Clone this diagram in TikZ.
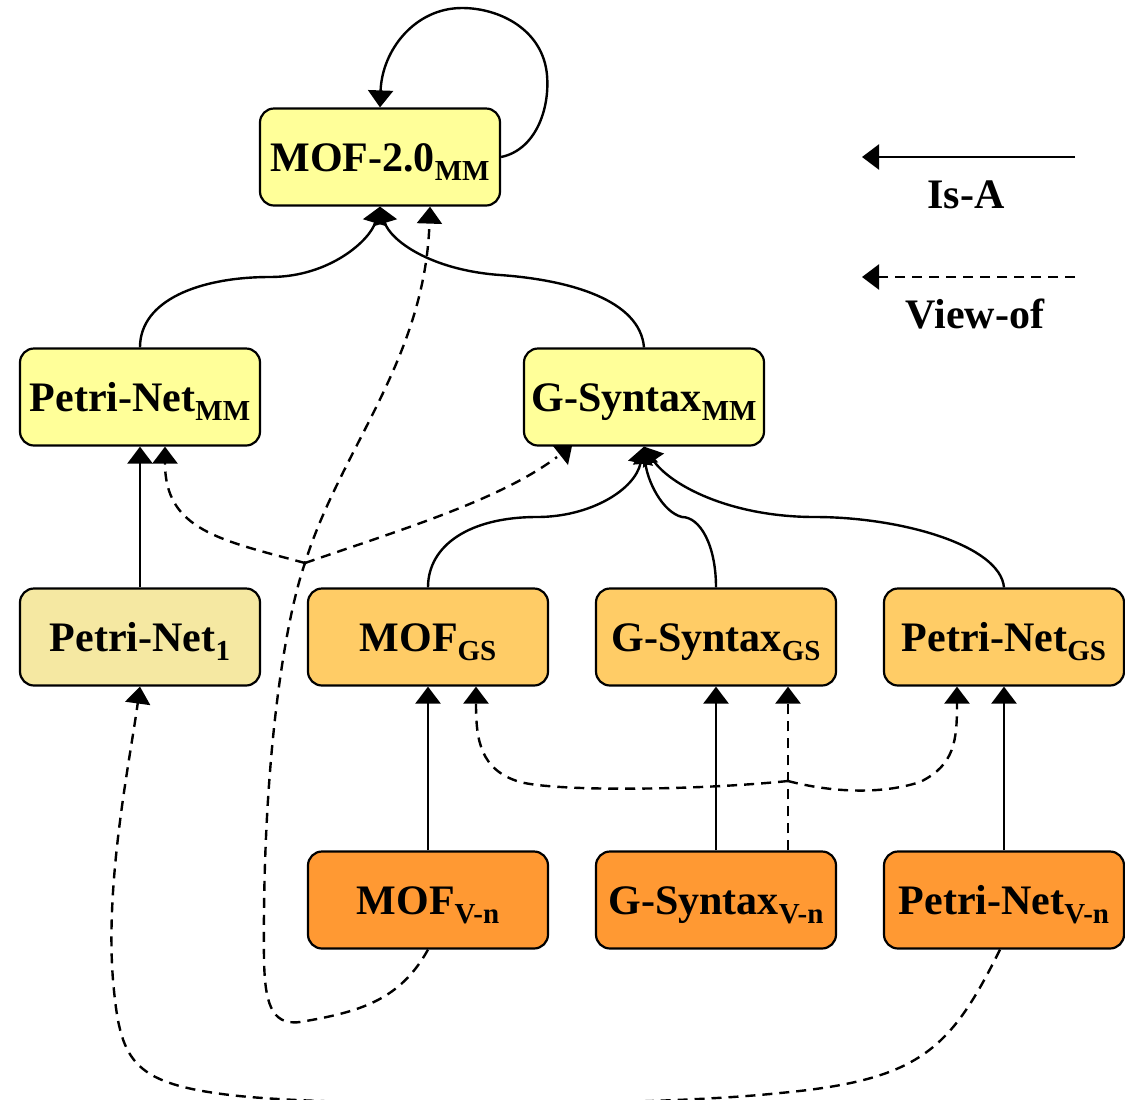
\documentclass[tikz,border=0pt]{standalone}
\usepackage{fontspec}
\setmainfont{Liberation Serif}
\usetikzlibrary{arrows.meta,calc}
\newcommand\lsub[1]{\raisebox{-4.5pt}{\fontsize{14.5}{15}\selectfont #1}}
\definecolor{mmfill}{HTML}{FFFF99}
\definecolor{onefill}{HTML}{F5E8A2}
\definecolor{gsfill}{HTML}{FFCC66}
\definecolor{vnfill}{HTML}{FF9933}
\begin{document}
\begin{tikzpicture}[x=0.5pt,y=-0.5pt,
  box/.style={draw=black,line width=1.1pt,rounded corners=7pt,minimum width=120pt,
    minimum height=48.5pt,inner sep=0pt,font=\fontsize{21}{25}\selectfont\bfseries,
    text height=14pt,text depth=0pt},
  lbl/.style={font=\fontsize{21}{25}\selectfont\bfseries,inner sep=0pt,anchor=base},
  isa/.style={line width=1.2pt,-{Triangle[width=12.5pt,length=8.5pt]}},
  viewof/.style={isa,dash pattern=on 5pt off 3.5pt}]
\useasboundingbox (0,0) rectangle (1125,1099);

% nodes
\node[box,fill=mmfill] (mof) at (380,157) {MOF-2.0\lsub{MM}};
\node[box,fill=mmfill] (pnmm) at (140,397) {Petri-Net\lsub{MM}};
\node[box,fill=mmfill] (gsmm) at (644,397) {G-Syntax\lsub{MM}};
\node[box,fill=onefill] (pn1) at (140,637) {Petri-Net\lsub{1}};
\node[box,fill=gsfill] (mgs) at (428,637) {MOF\lsub{GS}};
\node[box,fill=gsfill] (ggs) at (716,637) {G-Syntax\lsub{GS}};
\node[box,fill=gsfill] (pgs) at (1004,637) {Petri-Net\lsub{GS}};
\node[box,fill=vnfill] (mvn) at (428,900) {MOF\lsub{V-n}};
\node[box,fill=vnfill] (gvn) at (716,900) {G-Syntax\lsub{V-n}};
\node[box,fill=vnfill] (pvn) at (1004,900) {Petri-Net\lsub{V-n}};

% legend
\coordinate (la1) at (1075,157); \coordinate (la2) at (862,157);
\coordinate (lb1) at (1075,277); \coordinate (lb2) at (862,277);
\draw[isa] (la1) -- (la2);
\draw[viewof] (lb1) -- (lb2);
\node[lbl] (lisa) at (966,208) {Is-A};
\node[lbl] (lview) at (975,328) {View-of};

% Is-A connectors
\draw[isa] (mof.east) .. controls (535,150) and (550,110) .. (547,75)
  .. controls (543,30) and (500,8) .. (462,8)
  .. controls (415,8) and (382,50) .. (mof.north);
\draw[isa] (pnmm.north) .. controls (140,300) and (200,277) .. (270,277)
  .. controls (330,277) and (370,240) .. (mof.south);
\draw[isa] (gsmm.north) .. controls (640,300) and (570,280) .. (500,275)
  .. controls (430,270) and (390,240) .. (mof.south);
\draw[isa] (pn1.north) -- (pnmm.south);
\draw[isa] (mgs.north) .. controls (428,545) and (470,517) .. (537,517)
  .. controls (590,517) and (635,490) .. (gsmm.south);
\draw[isa] (ggs.north) .. controls (716,545) and (700,517) .. (682,517)
  .. controls (662,512) and (647,480) .. (gsmm.south);
\draw[isa] (pgs.north) .. controls (1000,545) and (900,517) .. (815,517)
  .. controls (730,517) and (670,485) .. (gsmm.south);
\draw[isa] (mvn.north) -- (mgs.south);
\draw[isa] (gvn.north) -- (ggs.south);
\draw[isa] (pvn.north) -- (pgs.south);

% View-of connectors
\coordinate (j1) at (305,563);
\coordinate (j2) at (788,781);
\coordinate (gtip) at (557,457);
\draw[viewof] (mvn.south) .. controls (400,1000) and (360,1012) .. (300,1022)
  .. controls (270,1026) and (265,1000) .. (264,960)
  .. controls (262,760) and (285,620) .. (j1)
  .. controls (340,450) and (425,360) .. ($(mof.south)+(50,0)$);
\draw[viewof] (j1) .. controls (220,540) and (165,530) .. ($(pnmm.south)+(25,0)$);
\draw[dash pattern=on 5pt off 3.5pt,line width=1.2pt] (j1) .. controls (400,530) and (500,500) .. (gtip);
\fill (553,446) -- (572,446) -- (568,465) -- cycle;
\draw[viewof] ($(gvn.north)+(72,0)$) -- (j2) -- ($(ggs.south)+(72,0)$);
\draw[viewof] (j2) .. controls (700,790) and (560,792) .. (520,782)
  .. controls (480,770) and (476,740) .. ($(mgs.south)+(48,0)$);
\draw[viewof] (j2) .. controls (830,792) and (880,795) .. (920,782)
  .. controls (955,765) and (957,740) .. ($(pgs.south)+(-47,0)$);
\draw[viewof] ($(pvn.south)+(-4,0)$) .. controls (950,1050) and (920,1080) .. (780,1093)
  .. controls (650,1107) and (330,1107) .. (230,1095)
  .. controls (130,1083) and (120,1060) .. (113,980)
  .. controls (105,880) and (130,760) .. (pn1.south);
\end{tikzpicture}
\end{document}
